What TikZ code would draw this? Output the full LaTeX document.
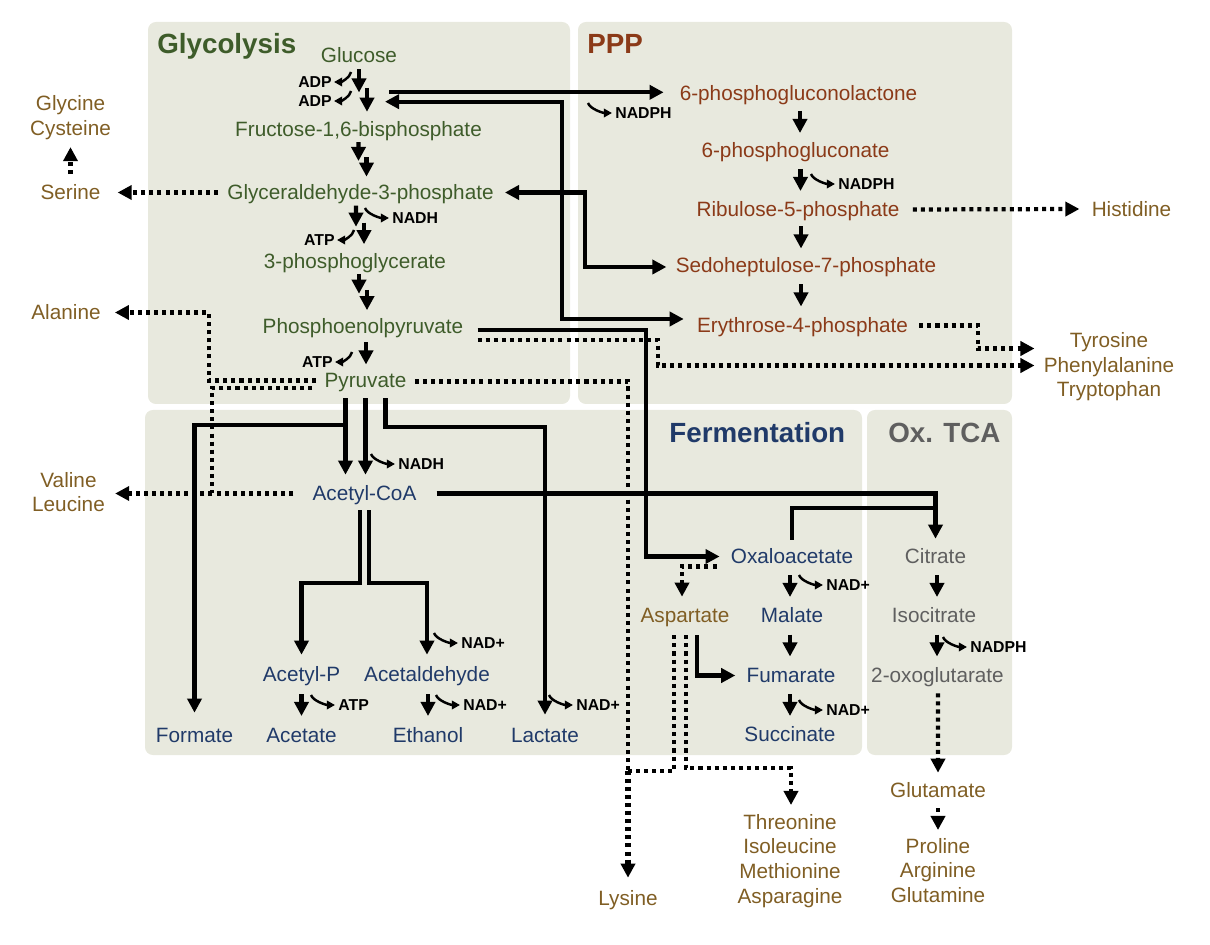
\documentclass[tikz,border=0pt]{standalone}
\usepackage{fontspec}
\setmainfont{Liberation Sans}
\usetikzlibrary{calc, arrows.meta}

\definecolor{boxbg}{RGB}{232,233,222}
\definecolor{glyc}{RGB}{62,92,42}
\definecolor{pppc}{RGB}{139,58,24}
\definecolor{ferm}{RGB}{32,58,105}
\definecolor{tcac}{RGB}{95,95,95}
\definecolor{amino}{RGB}{128,94,36}

\tikzset{
	met/.style={inner sep=0pt, text height=8.5pt, text depth=0pt, font=\fontsize{11.8}{14}\selectfont},
	gly/.style={met, text=glyc},
	ppp/.style={met, text=pppc},
	fer/.style={met, text=ferm},
	tca/.style={met, text=tcac},
	aa/.style={met, text=amino},
	aam/.style={inner sep=0pt, align=center, anchor=north, text=amino, font=\fontsize{11.8}{14}\selectfont},
	cof/.style={inner sep=0pt, font=\fontsize{9}{10}\selectfont\bfseries},
	ttl/.style={inner sep=0pt, anchor=base west, font=\fontsize{15.8}{18}\selectfont\bfseries},
	area/.style={fill=boxbg, rounded corners=4.5pt},
	tip/.style={-{Triangle[length=8pt,width=8pt]}},
	arr/.style={line width=2.3pt, tip},
	bi/.style={line width=2.3pt, {Triangle[length=8pt,width=8pt]}-{Triangle[length=8pt,width=8pt]}},
	plain/.style={line width=2.3pt},
	dots/.style={line width=2.4pt, dash pattern=on 2.3pt off 2.3pt},
	darr/.style={dots, tip},
	hk/.style={line width=1.4pt, -{Triangle[length=4.6pt,width=4.8pt]}}
}

% двойная стрелка (две стадии подряд)
\newcommand{\dblarr}[3]{%
	\draw[arr] ($(#1.south)!.1!(#1.south |- #2.north)+(#3,0)$) -- ($(#1.south)!.5!(#1.south |- #2.north)+(#3,0)$);
	\draw[arr] ($(#1.south)!.42!(#1.south |- #2.north)+(#3+8,0)$) -- ($(#1.south)!.83!(#1.south |- #2.north)+(#3+8,0)$);}
% одна стрелка между метаболитами
\newcommand{\onearr}[3]{%
	\draw[arr] ($(#1.south)!.5!(#1.south |- #2.north)+(#3,-11)$) -- ($(#1.south)!.5!(#1.south |- #2.north)+(#3,11)$);}
% крючки кофакторов
\newcommand{\hookr}[1]{\draw[hk] ($(#1.west)+(-27,-10)$) .. controls +(2,6) and +(-9,0) .. ($(#1.west)+(-3,0)$);}
\newcommand{\hookl}[1]{\draw[hk] ($(#1.east)+(19,-10)$) .. controls +(-1,6) and +(7,0) .. ($(#1.east)+(2,0)$);}

\begin{document}
\begin{tikzpicture}[x=0.02cm, y=-0.02cm]
	\useasboundingbox (0,0) rectangle (1210,945);
	
	% Блоки
	\fill[area] (148,22) rectangle (570,404);
	\fill[area] (578,22) rectangle (1012,404);
	\fill[area] (145,410) rectangle (862,755);
	\fill[area] (867,410) rectangle (1012,755);
	
	% Заголовки
	\node[ttl, text=glyc] (tgly) at (157,53.5) {Glycolysis};
	\node[ttl, text=pppc] (tppp) at (587,53.5) {PPP};
	\node[ttl, text=ferm] (tfer) at (669,442.5) {Fermentation};
	\node[ttl, text=tcac] (ttca) at (888,442.5) {Ox. TCA};
	
	% Гликолиз
	\node[gly] (glc) at (359,55.5) {Glucose};
	\node[gly] (f16) at (358.5,129.5) {Fructose-1,6-bisphosphate};
	\node[gly] (g3p) at (360.5,192.5) {Glyceraldehyde-3-phosphate};
	\node[gly] (pg3) at (355,261) {3-phosphoglycerate};
	\node[gly] (pep) at (363,326.5) {Phosphoenolpyruvate};
	\node[gly] (pyr) at (365.5,380.5) {Pyruvate};
	
	% Пентозофосфатный путь
	\node[ppp] (pgl) at (798.5,93.5) {6-phosphogluconolactone};
	\node[ppp] (pgn) at (795.5,150.5) {6-phosphogluconate};
	\node[ppp] (ru5p) at (798,209.5) {Ribulose-5-phosphate};
	\node[ppp] (s7p) at (806,265.5) {Sedoheptulose-7-phosphate};
	\node[ppp] (e4p) at (802.5,325.5) {Erythrose-4-phosphate};
	
	% Брожение
	\node[fer] (acoa) at (364.5,493.5) {Acetyl-CoA};
	\node[fer] (acp) at (301.5,674.5) {Acetyl-P};
	\node[fer] (ald) at (427,674.5) {Acetaldehyde};
	\node[fer] (form) at (194.5,735.5) {Formate};
	\node[fer] (ace) at (301.5,735.5) {Acetate};
	\node[fer] (eth) at (428,735.5) {Ethanol};
	\node[fer] (lac) at (545,735.5) {Lactate};
	\node[fer] (oaa) at (792,556.5) {Oxaloacetate};
	\node[fer] (mal) at (792,615.5) {Malate};
	\node[fer] (fum) at (791,675.5) {Fumarate};
	\node[fer] (suc) at (790,734.5) {Succinate};
	
	% ЦТК
	\node[tca] (cit) at (935.5,556.5) {Citrate};
	\node[tca] (icit) at (934,615.5) {Isocitrate};
	\node[tca] (akg) at (937.5,675.5) {2-oxoglutarate};
	
	% Аминокислоты
	\node[aam] (gly) at (70.5,95.5) {Glycine\\Cysteine};
	\node[aa] (ser) at (70.5,192) {Serine};
	\node[aa] (ala) at (66,312.5) {Alanine};
	\node[aam] (val) at (68.5,471.8) {Valine\\Leucine};
	\node[aa] (his) at (1131.5,209) {Histidine};
	\node[aam] (aro) at (1109,332.4) {Tyrosine\\Phenylalanine\\Tryptophan};
	\node[aa] (asp) at (685,615.5) {Aspartate};
	\node[aa] (glu) at (938,790.5) {Glutamate};
	\node[aam] (pro) at (938,838) {Proline\\Arginine\\Glutamine};
	\node[aam] (thr) at (790,814) {Threonine\\Isoleucine\\Methionine\\Asparagine};
	\node[aa] (lys) at (628,898.5) {Lysine};
	
	% Кофакторы
	\node[cof, anchor=east] (adp1) at (332,82) {ADP};
	\node[cof, anchor=east] (adp2) at (332,101) {ADP};
	\node[cof, anchor=west] (nadh1) at (392,218) {NADH};
	\node[cof, anchor=east] (atp1) at (335,240) {ATP};
	\node[cof, anchor=east] (atp2) at (333,362) {ATP};
	\node[cof, anchor=west] (nadph1) at (615,113) {NADPH};
	\node[cof, anchor=west] (nadph2) at (838,184) {NADPH};
	\node[cof, anchor=west] (nadh2) at (398,464) {NADH};
	\node[cof, anchor=west] (nad1) at (461,643) {NAD+};
	\node[cof, anchor=west] (atp3) at (338,705) {ATP};
	\node[cof, anchor=west] (nad2) at (463,705) {NAD+};
	\node[cof, anchor=west] (nad3) at (576,705) {NAD+};
	\node[cof, anchor=west] (nad4) at (826,585) {NAD+};
	\node[cof, anchor=west] (nad5) at (826,710) {NAD+};
	\node[cof, anchor=west] (nadph3) at (970,647) {NADPH};
	
	% Стрелки гликолиза
	\dblarr{glc}{f16}{0}
	\dblarr{f16}{g3p}{0}
	\dblarr{g3p}{pg3}{-4.5}
	\dblarr{pg3}{pep}{4}
	\onearr{pep}{pyr}{3}
	\hookl{adp1} \hookl{adp2} \hookr{nadh1} \hookl{atp1} \hookl{atp2}
	
	% Стрелки ППП
	\onearr{pgl}{pgn}{1.5}
	\onearr{pgn}{ru5p}{5}
	\onearr{ru5p}{s7p}{3}
	\onearr{s7p}{e4p}{-5}
	\hookr{nadph1} \hookr{nadph2}
	
	% Стрелки брожения и ЦТК
	\onearr{oaa}{mal}{-2}
	\onearr{mal}{fum}{-2}
	\onearr{fum}{suc}{-1}
	\onearr{cit}{icit}{1.5}
	\onearr{icit}{akg}{3}
	\onearr{acp}{ace}{0}
	\onearr{ald}{eth}{1}
	\hookr{nadh2} \hookr{nad1} \hookr{atp3} \hookr{nad2} \hookr{nad3}
	\hookr{nad4} \hookr{nad5} \hookr{nadph3}
	
	% Связи между путями
	\coordinate (g6p) at ($(glc.south east)+(-8,29)$);
	\coordinate (f6p) at ($(f16.north)+(26.5,-20)$);
	\coordinate (e4pin) at ($(e4p.west)+(-13,-6.5)$);
	\coordinate (g3pout) at ($(g3p.east)+(11,0)$);
	\coordinate (s7pin) at ($(s7p.west)+(-9,1.5)$);
	\coordinate (pepout) at ($(pep.east)+(14,3.5)$);
	\coordinate (oaain) at ($(oaa.west)+(-11,0)$);
	\coordinate (tkt) at (562,0);
	\coordinate (tal) at (585,0);
	\coordinate (ppc) at (646,0);
	\draw[arr, shorten >=9pt] (g6p) -- (g6p -| pgl.west);
	\draw[bi] (f6p) -| (tkt |- e4pin) -- (e4pin);
	\draw[bi] (g3pout) -| (tal |- s7pin) -- (s7pin);
	\draw[arr] (pepout) -| (ppc |- oaain) -- (oaain);
	\draw[arr] ($(acoa.east)+(20,0)$) -| ($(cit.north)+(0,-10)$);
	\draw[plain] ($(oaa.north)+(0,-9)$) |- ($(cit.north)+(0,-41)$);
	
	% Пируват и ацетил-КоА
	\coordinate (pfl) at ($(pyr.south)+(-20,37)$);
	\coordinate (ldh) at ($(pyr.south)+(20,10)$);
	\draw[arr] ($(pyr.south)+(-20,10)$) -- ($(acoa.north)+(-19,-11)$);
	\draw[arr] ($(pyr.south)+(0,10)$) -- ($(acoa.north)+(1,-11)$);
	\draw[arr] (pfl) -| ($(form.north)+(0,-15)$);
	\draw[arr] (ldh) -- +(0,29) -| ($(lac.north)+(0,-13)$);
	\draw[arr] ($(acoa.south)+(-4.5,9)$) -- +(0,73) -| ($(acp.north)+(0,-12)$);
	\draw[arr] ($(acoa.south)+(4.5,9)$) -- +(0,73) -| ($(ald.north)+(0,-12)$);
	\draw[arr] ($(asp.south)+(12,12)$) |- ($(fum.west)+(-11,0)$);
	
	% Синтез аминокислот (пунктир)
	\coordinate (pepd) at ($(pep.east)+(14,13.5)$);
	\coordinate (e4pd) at ($(e4p.east)+(11,0)$);
	\coordinate (arin1) at ($(aro.west)+(-9,-18.5)$);
	\coordinate (arin2) at ($(aro.west)+(-9,-1.5)$);
	\coordinate (lysj) at ($(lys.north)+(0,-120)$);
	\coordinate (shk) at (658,0);
	\coordinate (dahp) at (978,0);
	\draw[darr, shorten >=9.6pt] ($(g3p.west)+(-9,0)$) -- (g3p.west -| ser.east);
	\draw[darr] ($(ser.north)+(0,-10)$) -- ($(gly.south)+(0,7)$);
	\draw[darr] ($(pyr.west)+(-8,0)$) -| ($(ala.east)+(108,0)$) -- ($(ala.east)+(14,0)$);
	\draw[dots] ($(pyr.west)+(-12,7.5)$) -| ($(acoa.west)+(-100,0)$);
	\draw[darr, shorten >=5.7pt] ($(acoa.west)+(-19,0)$) -- (acoa.west -| val.east);
	\draw[dots] ($(pyr.east)+(8,1)$) -| (lysj);
	\draw[dots] ($(asp.south)+(-11,12)$) |- (lysj);
	\draw[darr, line width=3.6pt] (lysj) -- ($(lys.north)+(0,-13)$);
	\draw[darr] ($(asp.south)+(1,12)$) -- +(0,133) -| ($(thr.north)+(1,-9)$);
	\draw[darr] ($(oaa.west)+(-14,10)$) -| ($(asp.north)+(-3,-11)$);
	\draw[darr] (pepd) -| (shk |- arin2) -- (arin2);
	\draw[darr] (e4pd) -| (dahp |- arin1) -- (arin1);
	\draw[darr] ($(ru5p.east)+(13,0)$) -- ($(his.west)+(-12,0)$);
	\draw[darr] ($(akg.south)+(0.5,10)$) -- ($(glu.north)+(0,-10)$);
	\draw[darr] ($(glu.south)+(0,10)$) -- ($(pro.north)+(0,-8)$);
\end{tikzpicture}
\end{document}
